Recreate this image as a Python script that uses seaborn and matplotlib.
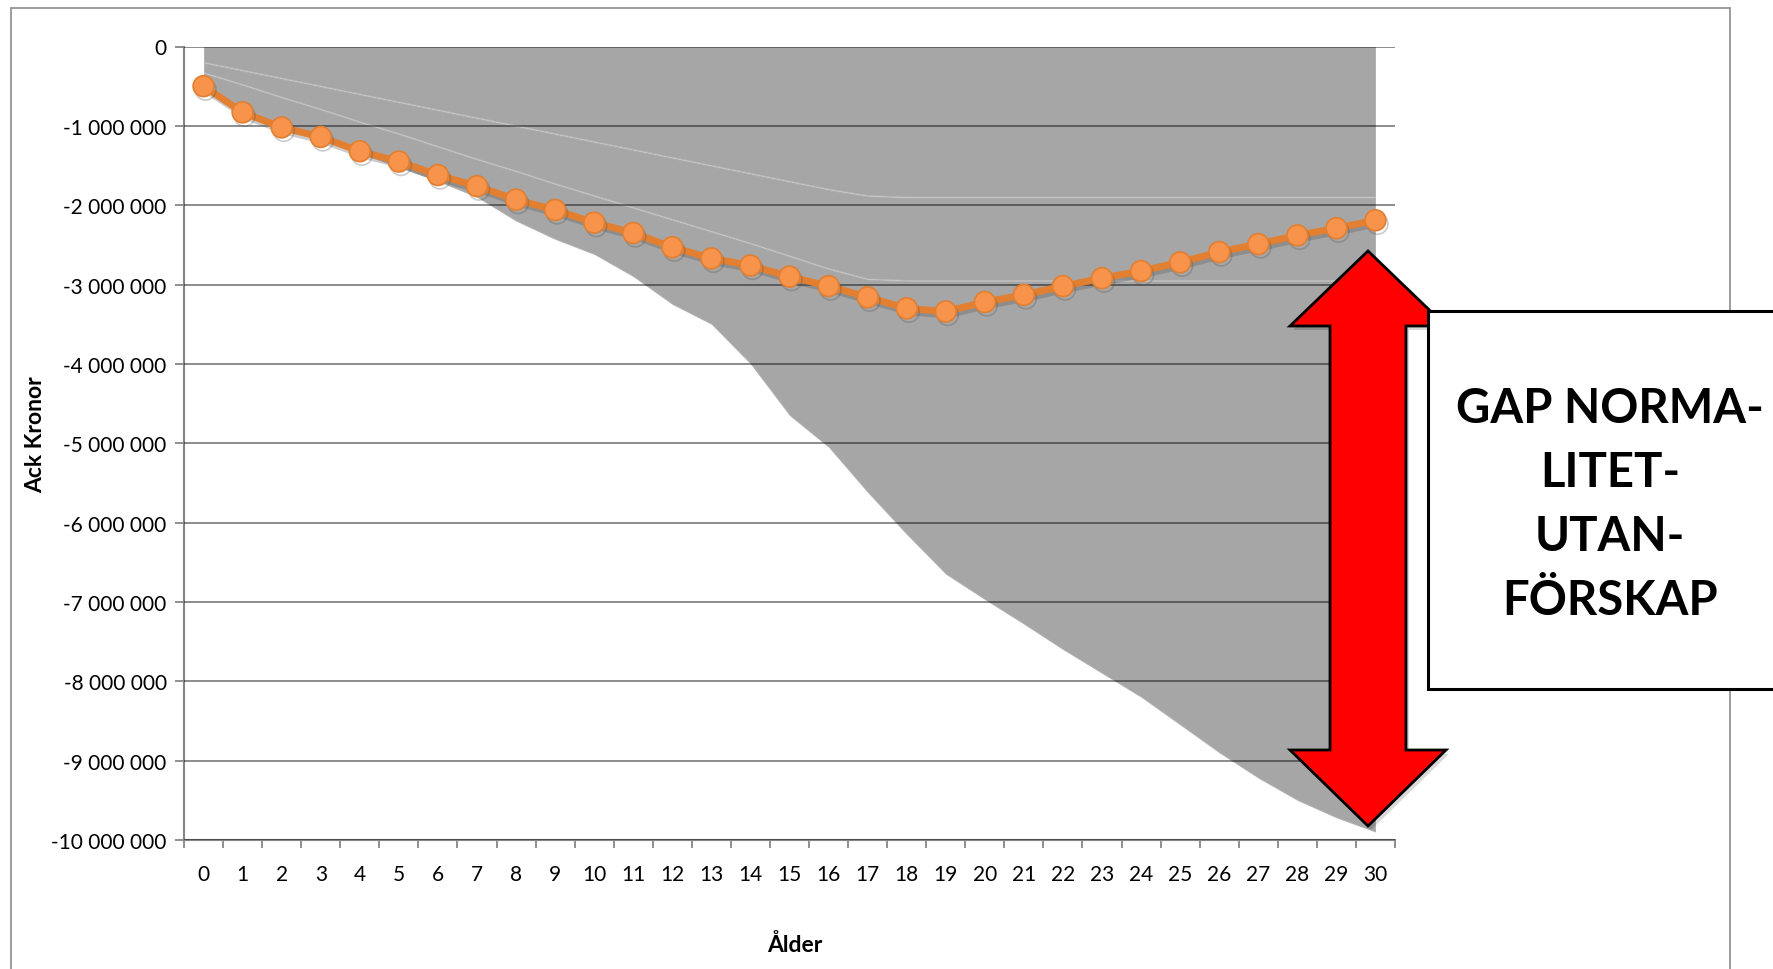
import numpy as np
import matplotlib
matplotlib.use("Agg")
import matplotlib.pyplot as plt
import matplotlib.patheffects as pe
from matplotlib.patches import Polygon, Rectangle
from matplotlib.lines import Line2D
import seaborn as sns

# Ålder 0-30
ages = list(range(31))
age_labels = [str(a) for a in ages]

# orange series, miljoner kronor
ack_kronor = [-0.50, -0.83, -1.02, -1.14, -1.32, -1.45, -1.62, -1.76, -1.93, -2.06,
              -2.22, -2.35, -2.53, -2.67, -2.76, -2.90, -3.02, -3.16, -3.30, -3.34,
              -3.22, -3.13, -3.02, -2.92, -2.83, -2.72, -2.59, -2.49, -2.38, -2.29,
              -2.19]

# grey stacked area, three layers (miljoner kronor)
layer1 = [-0.20, -0.30, -0.40, -0.50, -0.60, -0.70, -0.80, -0.90, -1.00, -1.10,
          -1.20, -1.30, -1.40, -1.50, -1.60, -1.70, -1.80, -1.88, -1.90, -1.90,
          -1.90, -1.90, -1.90, -1.90, -1.90, -1.90, -1.90, -1.90, -1.90, -1.90,
          -1.90]
layer2 = [-0.13, -0.18, -0.24, -0.29, -0.35, -0.40, -0.46, -0.52, -0.57, -0.63,
          -0.68, -0.73, -0.78, -0.83, -0.88, -0.94, -1.00, -1.05, -1.05, -1.05,
          -1.05, -1.05, -1.05, -1.05, -1.05, -1.05, -1.05, -1.05, -1.05, -1.05,
          -1.05]
layer3 = [-0.12, -0.32, -0.36, -0.38, -0.40, -0.42, -0.44, -0.48, -0.63, -0.70,
          -0.74, -0.87, -1.07, -1.17, -1.52, -2.01, -2.25, -2.69, -3.20, -3.70,
          -4.02, -4.33, -4.65, -4.95, -5.25, -5.60, -5.95, -6.27, -6.55, -6.77,
          -6.95]

y_ticks = [0, -1, -2, -3, -4, -5, -6, -7, -8, -9, -10]
y_tick_labels = ["0", "-1 000 000", "-2 000 000", "-3 000 000", "-4 000 000",
                 "-5 000 000", "-6 000 000", "-7 000 000", "-8 000 000",
                 "-9 000 000", "-10 000 000"]

M = 1e6

sns.set_theme(style="white")
plt.rcParams['font.family'] = ['Lato', 'DejaVu Sans']
plt.rcParams['text.color'] = 'black'
plt.rcParams['axes.labelcolor'] = 'black'
plt.rcParams['xtick.labelcolor'] = 'black'
plt.rcParams['ytick.labelcolor'] = 'black'

W, H = 1773, 970
fig = plt.figure(figsize=(W / 100, H / 100), dpi=100)
ax = fig.add_axes([184 / W, 1 - 841 / H, (1395 - 184) / W, (841 - 47.5) / H])

# grey area
grey = "#a6a6a6"
ax.stackplot(ages, np.array(layer1) * M, np.array(layer2) * M, np.array(layer3) * M,
             colors=[grey, grey, grey], edgecolor=(1, 1, 1, 0.12), linewidth=1.5,
             zorder=1)

# orange line
sns.lineplot(x=ages, y=np.array(ack_kronor) * M, ax=ax, color="#e27f30",
             linewidth=5, marker="o", markersize=15, markerfacecolor="#f7934a",
             markeredgecolor="#e27f30", markeredgewidth=1.2, zorder=3,
             path_effects=[pe.SimpleLineShadow(offset=(1.5, -2.5), shadow_color="#555555",
                                               alpha=0.3), pe.Normal()])

ax.set_xlim(-0.5, 30.5)
ax.set_ylim(-10 * M, 0)

ax.set_yticks(np.array(y_ticks) * M)
ax.set_yticklabels(y_tick_labels, fontsize=15)
ax.set_xticks(ages)
ax.set_xticklabels(age_labels, fontsize=15)
ax.set_xticks(np.arange(-0.5, 31, 1), minor=True)

ax.tick_params(axis="y", which="major", length=6.5, width=1.3, color="#868686",
               direction="out", pad=6, left=True)
ax.tick_params(axis="x", which="major", length=0, pad=17)
ax.tick_params(axis="x", which="minor", length=6, width=1.3, color="#868686",
               direction="out", bottom=True)

ax.set_axisbelow(False)
ax.yaxis.grid(True, color="black", alpha=0.45, linewidth=1.4, zorder=2)
ax.xaxis.grid(False)

for s in ["top", "right"]:
    ax.spines[s].set_visible(False)
for s in ["left", "bottom"]:
    ax.spines[s].set_color("#868686")
    ax.spines[s].set_linewidth(1.5)

ax.set_ylabel("Ack Kronor", fontsize=16.5, fontweight="bold")
ax.yaxis.set_label_coords((46 - 184) / 1211, 0.512)
ax.set_xlabel("Ålder", fontsize=16.5, fontweight="bold")
ax.xaxis.set_label_coords((795 - 184) / 1211, (841 - 934) / 793.5)


def fx(x):
    return x / W


def fy(y):
    return 1 - y / H


# chart frame
frame_kw = dict(color="#8c8c8c", linewidth=1.2, transform=fig.transFigure)
fig.add_artist(Line2D([fx(11), fx(11)], [fy(9), 0], **frame_kw))
fig.add_artist(Line2D([fx(11), fx(1730)], [fy(9), fy(9)], **frame_kw))
fig.add_artist(Line2D([fx(1730), fx(1730)], [fy(9), 0], **frame_kw))

# double arrow
arrow_px = [(1368, 252), (1446, 327), (1406, 327), (1406, 751), (1446, 751),
            (1368, 827), (1290, 751), (1330, 751), (1330, 327), (1290, 327)]
shadow = Polygon([(fx(x + 3), fy(y + 4)) for x, y in arrow_px], closed=True,
                 transform=fig.transFigure, facecolor="black", alpha=0.15,
                 edgecolor="none", zorder=10)
arrow = Polygon([(fx(x), fy(y)) for x, y in arrow_px], closed=True,
                transform=fig.transFigure, facecolor="#ff0000", edgecolor="black",
                linewidth=2, zorder=11)
fig.add_artist(shadow)
fig.add_artist(arrow)

# text box
box = Rectangle((fx(1428), fy(690)), fx(1800) - fx(1428), fy(312) - fy(690),
                transform=fig.transFigure, facecolor="white", edgecolor="black",
                linewidth=2.2, zorder=12)
fig.add_artist(box)
fig.text(fx(1610), fy(505), "GAP NORMA-\nLITET-\nUTAN-\nFÖRSKAP", ha="center",
         va="center", fontsize=34, fontweight="bold", linespacing=1.55, zorder=13)

fig.savefig("out.png", dpi=100)
